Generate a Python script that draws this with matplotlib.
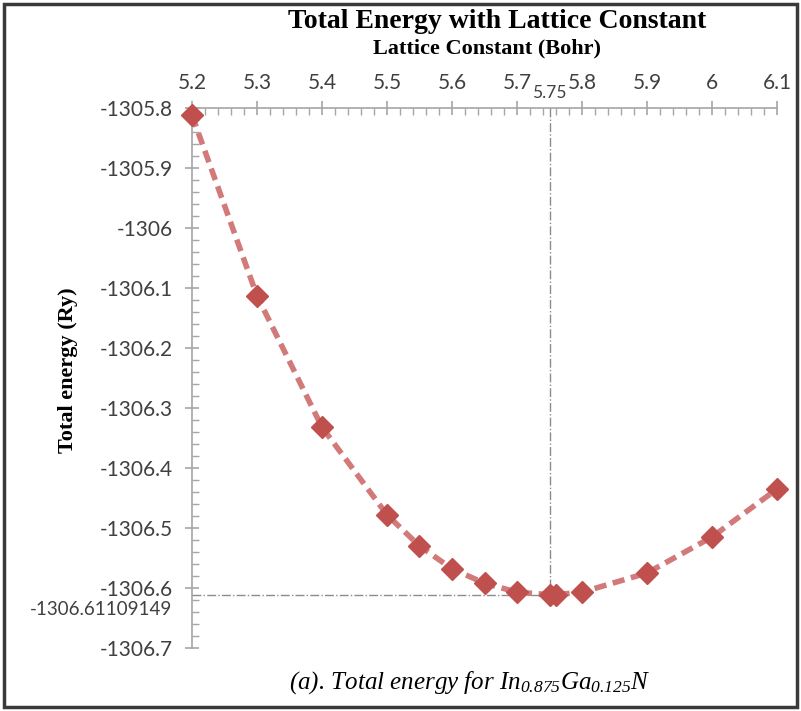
import matplotlib
matplotlib.use("Agg")
import matplotlib.pyplot as plt
from matplotlib.ticker import MultipleLocator, FixedLocator
from matplotlib.patches import Rectangle

lattice = [5.2, 5.3, 5.4, 5.5, 5.55, 5.6, 5.65, 5.7, 5.75, 5.76, 5.8, 5.9, 6.0, 6.1]
energy = [-1305.812, -1306.113, -1306.332, -1306.478, -1306.530, -1306.568, -1306.592,
          -1306.607, -1306.61109149, -1306.611, -1306.607, -1306.575, -1306.515, -1306.435]
x_ticks = [5.2, 5.3, 5.4, 5.5, 5.6, 5.7, 5.8, 5.9, 6.0, 6.1]
x_tick_labels = ["5.2", "5.3", "5.4", "5.5", "5.6", "5.7", "5.8", "5.9", "6", "6.1"]
y_ticks = [-1305.8, -1305.9, -1306.0, -1306.1, -1306.2, -1306.3, -1306.4, -1306.5, -1306.6, -1306.7]
y_tick_labels = ["-1305.8", "-1305.9", "-1306", "-1306.1", "-1306.2", "-1306.3", "-1306.4",
                 "-1306.5", "-1306.6", "-1306.7"]
opt_x = 5.75
opt_y = -1306.61109149
opt_x_label = "5.75"
opt_y_label = "-1306.61109149"

plt.rcParams['mathtext.fontset'] = 'custom'
plt.rcParams['mathtext.it'] = 'Liberation Serif:italic'
plt.rcParams['mathtext.rm'] = 'Liberation Serif:italic'

W, H = 801, 711
fig = plt.figure(figsize=(W / 100, H / 100), dpi=100)
L, R, T, B = 192, 777, 108, 648
ax = fig.add_axes([L / W, 1 - B / H, (R - L) / W, (B - T) / H])

axis_grey = "#a6a6a6"
text_grey = "#404040"

ax.set_xlim(5.2, 6.1)
ax.set_ylim(-1306.7, -1305.8)
for s in ["bottom", "right"]:
    ax.spines[s].set_visible(False)
for s in ["top", "left"]:
    ax.spines[s].set_color(axis_grey)
    ax.spines[s].set_linewidth(1.2)
    ax.spines[s].set_zorder(1)

ax.xaxis.tick_top()
ax.xaxis.set_major_locator(FixedLocator(x_ticks))
ax.set_xticklabels(x_tick_labels)
ax.xaxis.set_minor_locator(MultipleLocator(0.02))
ax.yaxis.set_major_locator(FixedLocator(y_ticks))
ax.set_yticklabels(y_tick_labels)
ax.yaxis.set_minor_locator(MultipleLocator(0.02))
ax.tick_params(axis="both", which="major", direction="inout", length=10, width=1.2,
               color=axis_grey, labelcolor=text_grey, labelsize=15)
ax.tick_params(axis="both", which="minor", direction="in", length=5, width=1.0, color=axis_grey)
ax.tick_params(axis="x", which="major", pad=6)
ax.tick_params(axis="y", which="major", pad=9)
for lab in ax.get_xticklabels() + ax.get_yticklabels():
    lab.set_family("Lato")

# reference lines
ax.plot([opt_x, opt_x], [-1305.8, opt_y], color="#8c8c8c", lw=1.0, ls="-.", zorder=2, clip_on=False)
ax.plot([5.2, opt_x], [opt_y, opt_y], color="#8c8c8c", lw=1.0, ls="-.", zorder=2, clip_on=False)

ax.plot(lattice, energy, color="#d27a79", lw=4, ls=(0, (2.2, 1.2)), zorder=3,
        clip_on=False, solid_capstyle="butt")
ax.plot(lattice, energy, ls="none", marker="D", markersize=11, color="#c0504d",
        markeredgecolor="#c0504d", zorder=4, clip_on=False)

# extra labels for optimum
ax.annotate(opt_x_label, xy=(opt_x, -1305.8), xytext=(0, 5), textcoords="offset points",
            ha="center", va="bottom", fontsize=12.5, color=text_grey, family="Lato",
            annotation_clip=False)
ax.annotate(opt_y_label, xy=(5.2, opt_y), xytext=(-14, -11), textcoords="offset points",
            ha="right", va="center", fontsize=13.5, color=text_grey, family="Lato",
            annotation_clip=False)

ax.set_ylabel("Total energy (Ry)", family="Liberation Serif", fontweight="bold", fontsize=16)
ax.yaxis.set_label_coords((78 - L) / (R - L), (B - 370) / (B - T))

fig.text(497 / W, 1 - 21 / H, "Total Energy with Lattice Constant", family="Liberation Serif",
         fontweight="bold", fontsize=20, ha="center", va="center")
fig.text(487 / W, 1 - 48 / H, "Lattice Constant (Bohr)", family="Liberation Serif",
         fontweight="bold", fontsize=16, ha="center", va="center")
fig.text(470 / W, 1 - 683 / H, r"(a). Total energy for $In_{0.875}Ga_{0.125}N$",
         family="Liberation Serif", style="italic", fontsize=18, ha="center", va="center")

fig.patches.append(Rectangle((4 / W, 4 / H), (W - 8) / W, (H - 8) / H, transform=fig.transFigure,
                             fill=False, edgecolor="#3a3a3a", lw=2.5))

fig.savefig("out.png", dpi=100)
